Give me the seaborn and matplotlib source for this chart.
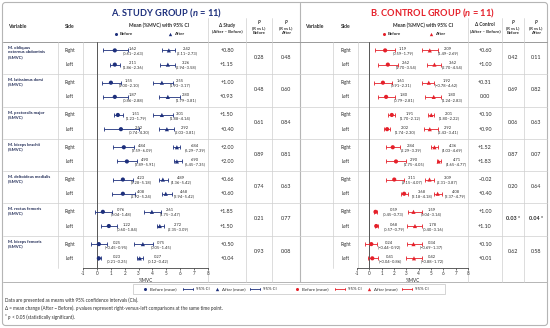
import numpy as np
import pandas as pd
import seaborn as sns
import matplotlib.pyplot as plt
from matplotlib.patches import FancyBboxPatch, Rectangle

# ---------------- data ----------------
muscles = ["M. obliquus\nexternus abdominis\n(%MVC)", "M. latissimus dorsi\n(%MVC)",
           "M. pectoralis major\n(%MVC)", "M. biceps brachii\n(%MVC)",
           "M. deltoideus medialis\n(%MVC)", "M. rectus femoris\n(%MVC)",
           "M. biceps femoris\n(%MVC)"]
sides = ["Right", "Left"]

# labels (mean, CI) -- order: muscle x (Right, Left)
study_before_mean = ["1.62", "2.11", "1.55", "1.87", "1.51", "2.52", "4.84", "4.90", "4.23", "4.08", "0.76", "1.22", "0.25", "0.23"]
study_before_ci = ["0.61–2.63", "1.86–2.36", "1.00–2.10", "0.86–2.88", "1.23–1.79", "0.74–4.30", "3.59–6.09",
                   "3.89–5.91", "3.28–5.18", "2.92–5.24", "0.04–1.48", "0.60–1.84", "−0.45–0.95", "0.21–0.25"]
study_after_mean = ["2.42", "3.26", "2.55", "2.80", "3.01", "2.92", "6.84", "6.90", "4.89", "4.68", "2.61", "2.72", "0.75", "0.27"]
study_after_ci = ["2.11–2.73", "2.94–3.58", "1.93–3.17", "1.79–3.81", "1.88–4.14", "2.03–3.81", "6.29–7.39",
                  "6.45–7.35", "4.36–5.42", "3.94–5.42", "1.75–3.47", "2.35–3.09", "0.05–1.45", "0.12–0.42"]
control_before_mean = ["1.19", "2.62", "1.61", "1.80", "1.91", "2.02", "2.84", "2.90", "3.11", "3.68", "0.59", "0.68", "0.24", "0.41"]
control_before_ci = ["0.59–1.79", "1.70–3.54", "0.91–2.31", "0.79–2.81", "1.70–2.12", "1.74–2.30", "2.29–3.39",
                     "1.75–4.05", "2.15–4.07", "3.18–4.18", "0.45–0.73", "0.57–0.79", "−0.44–0.92", "−0.04–0.86"]
control_after_mean = ["2.09", "3.62", "1.92", "1.80", "2.01", "2.92", "4.36", "4.71", "3.09", "4.08", "1.59", "1.78", "0.34", "0.42"]
control_after_ci = ["1.49–2.69", "2.70–4.54", "−0.78–4.62", "1.24–2.83", "1.80–2.22", "2.43–3.41", "4.03–4.69",
                    "4.65–4.77", "2.31–3.87", "3.37–4.79", "0.04–3.14", "0.40–3.16", "−0.69–1.37", "−0.88–1.72"]

# marker / whisker positions as drawn on the %MVC axis
study_before_x = [1.29, 1.29, 1.01, 1.29, 1.51, 1.73, 1.94, 2.16, 1.87, 1.87, 0.43, 0.86, 0.14, 0.14]
study_before_lo = [0.41, 0.94, 0.36, 0.43, 1.22, 0.50, 1.15, 1.44, 1.15, 1.08, -0.14, 0.29, -0.43, 0.07]
study_before_hi = [2.25, 1.65, 1.73, 2.23, 1.87, 3.02, 2.66, 2.88, 2.59, 2.73, 1.08, 1.44, 0.72, 0.29]
study_after_x = [5.18, 5.11, 4.68, 5.11, 4.68, 5.04, 5.76, 5.76, 4.75, 4.96, 3.96, 4.53, 3.31, 3.09]
study_after_lo = [4.68, 4.53, 4.03, 4.46, 4.03, 4.46, 5.47, 5.54, 4.46, 4.68, 3.38, 4.32, 2.66, 2.88]
study_after_hi = [5.61, 5.61, 5.47, 5.97, 5.47, 5.54, 5.97, 6.12, 5.11, 5.40, 4.60, 4.82, 4.03, 3.31]
control_before_x = [1.28, 1.50, 1.10, 1.36, 1.82, 1.44, 1.90, 2.16, 2.02, 2.82, 0.50, 0.56, 0.16, 0.24]
control_before_lo = [0.48, 0.70, 0.40, 0.74, 1.50, 1.22, 1.36, 1.36, 1.36, 2.56, 0.38, 0.42, -0.38, -0.10]
control_before_hi = [2.08, 2.30, 1.82, 2.08, 2.10, 1.70, 2.48, 2.96, 2.78, 3.10, 0.64, 0.70, 0.64, 0.70]
control_after_x = [4.90, 5.28, 4.82, 5.22, 5.02, 4.90, 5.28, 5.62, 4.88, 5.54, 3.58, 3.70, 3.58, 3.62]
control_after_lo = [4.30, 4.64, 4.30, 4.48, 4.78, 4.42, 5.02, 5.50, 4.48, 5.28, 3.10, 3.04, 3.04, 2.96]
control_after_hi = [5.54, 5.82, 5.28, 5.82, 5.28, 5.54, 5.58, 5.82, 5.22, 5.90, 4.30, 4.30, 4.30, 4.30]

study_delta = ["+0.80", "+1.15", "+1.00", "+0.93", "+1.50", "+0.40", "+2.00", "+2.00", "+0.66", "+0.60", "+1.85", "+1.50", "+0.50", "+0.04"]
control_delta = ["+0.60", "+1.00", "+0.31", "0.00", "+0.10", "+0.90", "+1.52", "+1.83", "−0.02", "+0.40", "+1.00", "+1.10", "+0.10", "+0.01"]
study_p_before = ["0.28", "0.48", "0.61", "0.89", "0.74", "0.21", "0.93"]
study_p_after = ["0.48", "0.60", "0.84", "0.81", "0.63", "0.77", "0.08"]
control_p_before = ["0.42", "0.69", "0.06", "0.87", "0.20", "0.03 *", "0.62"]
control_p_after = ["0.11", "0.82", "0.63", "0.07", "0.64", "0.04 *", "0.58"]
x_ticks = [-1, 0, 1, 2, 3, 4, 5, 6, 7, 8]

# ---------------- style ----------------
sns.set_theme(style="white")
plt.rcParams['font.family'] = ['Lato', 'DejaVu Sans']
plt.rcParams['mathtext.fontset'] = 'custom'
plt.rcParams['mathtext.it'] = 'Lato:italic:bold'
plt.rcParams['mathtext.rm'] = 'Lato'

NAVY = '#1d2f7c'
RED = '#e5202a'
TXT = '#2b2b2b'
GRID = '#cfcfcf'
W, H = 550, 328

fig = plt.figure(figsize=(5.5, 3.28), dpi=100)
bg = fig.add_axes([0, 0, 1, 1])
bg.set_xlim(0, W)
bg.set_ylim(H, 0)
bg.axis('off')
renderer = fig.canvas.get_renderer()


def fax(x0, x1, y0, y1):
    return fig.add_axes([x0 / W, 1 - y1 / H, (x1 - x0) / W, (y1 - y0) / H])


def rich(x, y, parts, **kw):
    """Draw a line made of (text, style) parts left to right in bg pixel coords."""
    cx = x
    for txt, st in parts:
        t = bg.text(cx, y, txt, fontstyle=st, ha='left', va='center', **kw)
        bb = t.get_window_extent(renderer=renderer)
        cx += bb.width  # 1 data unit == 1 pixel in bg
    return cx


TOP, BOT = 42, 268
BLK = (BOT - TOP) / 7.0
ROWF = [0.26, 0.70]


def row_px(i, s):
    return TOP + (i + ROWF[s]) * BLK


# outer frame
bg.add_patch(FancyBboxPatch((2.5, 2.5), W - 5, H - 5, boxstyle="round,pad=0,rounding_size=3",
                            fill=False, ec='#b5b5b5', lw=0.8))
# table lines
bg.plot([3, 547], [282, 282], color='#b5b5b5', lw=0.7)
bg.plot([300, 300], [3, 282], color='#b5b5b5', lw=0.8)
bg.plot([3, 547], [TOP, TOP], color='#9a9a9a', lw=0.7)
for k in range(1, 7):
    yb = TOP + k * BLK
    bg.plot([3, 547], [yb, yb], color=GRID, lw=0.5)
for xv in [58, 83, 333, 358]:
    bg.plot([xv, xv], [TOP, BOT], color=GRID, lw=0.5)
for xv in [208, 246, 272, 468, 502, 524]:
    bg.plot([xv, xv], [18, 282], color=GRID, lw=0.5)

# titles
bg.text(167, 13, r"A. STUDY GROUP ($n$ = 11)", color=NAVY, fontsize=6.7, fontweight='bold', ha='center', va='center')
bg.text(432, 13, r"B. CONTROL GROUP ($n$ = 11)", color=RED, fontsize=6.7, fontweight='bold', ha='center', va='center')

HF = 3.6


def header(xv, xs, xm, xlb, xla, xd, xpb, xpa, col, dname):
    if xv is not None:
        bg.text(xv, 26, "Variable", fontsize=HF, fontweight='bold', color=TXT, ha='left', va='center')
    bg.text(xs, 26, "Side", fontsize=HF, fontweight='bold', color=TXT, ha='center', va='center')
    bg.text(xm, 25, "Mean (%MVC) with 95% CI", fontsize=HF, fontweight='bold', color=TXT, ha='center', va='center')
    bg.plot([xlb], [34], marker='o', ms=2.2, color=col, mec='none')
    bg.text(xlb + 4, 34, "Before", fontsize=3.2, fontweight='bold', color=TXT, ha='left', va='center')
    bg.plot([xla], [33.7], marker='^', ms=2.4, color=col, mec='none')
    bg.text(xla + 4, 34, "After", fontsize=3.2, fontweight='bold', color=TXT, ha='left', va='center')
    bg.text(xd, 25, dname, fontsize=3.3, fontweight='bold', color=TXT, ha='center', va='center')
    bg.text(xd, 31, "(After – Before)", fontsize=3.2, fontweight='bold', color=TXT, ha='center', va='center')
    for xp, lab in [(xpb, "Before"), (xpa, "After")]:
        bg.text(xp, 22.5, "P", fontsize=3.3, fontweight='bold', fontstyle='italic', color=TXT, ha='center', va='center')
        bg.text(xp, 28, "(R vs L)", fontsize=3.1, fontweight='bold', color=TXT, ha='center', va='center')
        bg.text(xp, 33.5, lab, fontsize=3.1, fontweight='bold', color=TXT, ha='center', va='center')


header(8, 70, 159, 116, 170, 227, 259, 286, NAVY, "Δ Study")
header(305, 346, 423, 384, 431, 485, 513, 536, RED, "Δ Control")

# variable names, sides, deltas, p values
for i, name in enumerate(muscles):
    bg.text(8, TOP + i * BLK + 4, name, fontsize=3.1, fontweight='bold', color='#1f2a55',
            ha='left', va='top', linespacing=1.15)
    for s in range(2):
        y = row_px(i, s)
        bg.text(70, y, sides[s], fontsize=3.3, color=TXT, ha='center', va='center')
        bg.text(346, y, sides[s], fontsize=3.3, color=TXT, ha='center', va='center')
        bg.text(227, y, study_delta[2 * i + s], fontsize=3.9, color=TXT, ha='center', va='center')
        bg.text(485, y, control_delta[2 * i + s], fontsize=3.9, color=TXT, ha='center', va='center')
    ym = TOP + (i + 0.48) * BLK
    bg.text(259, ym, study_p_before[i], fontsize=3.9, color=TXT, ha='center', va='center')
    bg.text(286, ym, study_p_after[i], fontsize=3.9, color=TXT, ha='center', va='center')
    fw = 'bold' if '*' in control_p_before[i] else 'normal'
    bg.text(513, ym, control_p_before[i], fontsize=3.9, color=TXT, ha='center', va='center', fontweight=fw)
    fw = 'bold' if '*' in control_p_after[i] else 'normal'
    bg.text(536, ym, control_p_after[i], fontsize=3.9, color=TXT, ha='center', va='center', fontweight=fw)


def forest(ax, col, bx, blo, bhi, bm, bci, axx, alo, ahi, am, aci):
    n = len(bx)
    ys = [i + ROWF[s] for i in range(7) for s in range(2)]
    df = pd.DataFrame({
        'x': list(bx) + list(axx),
        'y': ys + ys,
        'phase': ['Before'] * n + ['After'] * n,
    })
    ax.axvline(0, color='#555555', lw=0.7, zorder=1)
    for xs, lo, hi in [(bx, blo, bhi), (axx, alo, ahi)]:
        xs = np.array(xs); lo = np.array(lo); hi = np.array(hi)
        ax.errorbar(xs, ys, xerr=[xs - lo, hi - xs], fmt='none', ecolor=col,
                    elinewidth=0.6, capsize=1.1, capthick=0.6, zorder=2)
    sns.scatterplot(data=df, x='x', y='y', style='phase', markers={'Before': 'o', 'After': '^'},
                    color=col, s=9, linewidth=0, ax=ax, legend=False, zorder=3)
    for xs, ms, cis in [(bx, bm, bci), (axx, am, aci)]:
        for xv, yv, m, c in zip(xs, ys, ms, cis):
            ax.annotate(f"{m}\n({c})", (xv, yv), xytext=(13, -0.6), textcoords='offset points',
                        ha='center', va='center', fontsize=2.9, color=TXT,
                        multialignment='center', linespacing=1.15)
    ax.set_xlim(-1, 8)
    ax.set_ylim(7, 0)
    ax.set_xticks(x_ticks)
    ax.set_xticklabels([str(t) for t in x_ticks])
    ax.set_yticks([])
    ax.set_xlabel("%MVC", fontsize=3.3, labelpad=1, color=TXT)
    ax.set_ylabel("")
    ax.patch.set_alpha(0)
    for sp in ['top', 'right', 'left']:
        ax.spines[sp].set_visible(False)
    ax.spines['bottom'].set_color('#444444')
    ax.spines['bottom'].set_linewidth(0.6)
    ax.tick_params(axis='x', labelsize=3.3, length=1.5, width=0.5, pad=1, colors='#333333', bottom=True)


axA = fax(83, 208, TOP, BOT)
forest(axA, NAVY, study_before_x, study_before_lo, study_before_hi, study_before_mean, study_before_ci,
       study_after_x, study_after_lo, study_after_hi, study_after_mean, study_after_ci)
axB = fax(357, 468, TOP, BOT)
forest(axB, RED, control_before_x, control_before_lo, control_before_hi, control_before_mean, control_before_ci,
       control_after_x, control_after_lo, control_after_hi, control_after_mean, control_after_ci)

# bottom legend
bg.add_patch(Rectangle((133, 284), 312, 10, fill=False, ec='#c4c4c4', lw=0.5))
LY = 289


def leg_item(x0, col):
    bg.plot([x0], [LY], marker='o', ms=2.2, color=col, mec='none')
    bg.text(x0 + 5, LY, "Before (mean)", fontsize=3.2, color=TXT, ha='left', va='center')
    bg.plot([x0 + 38, x0 + 48], [LY, LY], color=col, lw=0.6)
    bg.plot([x0 + 38, x0 + 38], [LY - 1.3, LY + 1.3], color=col, lw=0.6)
    bg.plot([x0 + 48, x0 + 48], [LY - 1.3, LY + 1.3], color=col, lw=0.6)
    bg.text(x0 + 51, LY, "95% CI", fontsize=3.2, color=TXT, ha='left', va='center')
    bg.plot([x0 + 72], [LY - 0.3], marker='^', ms=2.4, color=col, mec='none')
    bg.text(x0 + 77, LY, "After (mean)", fontsize=3.2, color=TXT, ha='left', va='center')
    bg.plot([x0 + 105, x0 + 115], [LY, LY], color=col, lw=0.6)
    bg.plot([x0 + 105, x0 + 105], [LY - 1.3, LY + 1.3], color=col, lw=0.6)
    bg.plot([x0 + 115, x0 + 115], [LY - 1.3, LY + 1.3], color=col, lw=0.6)
    bg.text(x0 + 118, LY, "95% CI", fontsize=3.2, color=TXT, ha='left', va='center')


leg_item(145, NAVY)
leg_item(297, RED)

# footnotes
FK = dict(fontsize=3.3, color=TXT)
bg.text(5, 300, "Data are presented as means with 95% confidence intervals (CIs).", ha='left', va='center', **FK)
rich(5, 308.5, [("Δ = mean change (After − Before). ", 'normal'), ("p", 'italic'),
                (" values represent right-versus-left comparisons at the same time point.", 'normal')], **FK)
rich(5, 317, [("* ", 'normal'), ("p", 'italic'), (" < 0.05 (statistically significant).", 'normal')], **FK)

fig.savefig("out.png", dpi=100)
